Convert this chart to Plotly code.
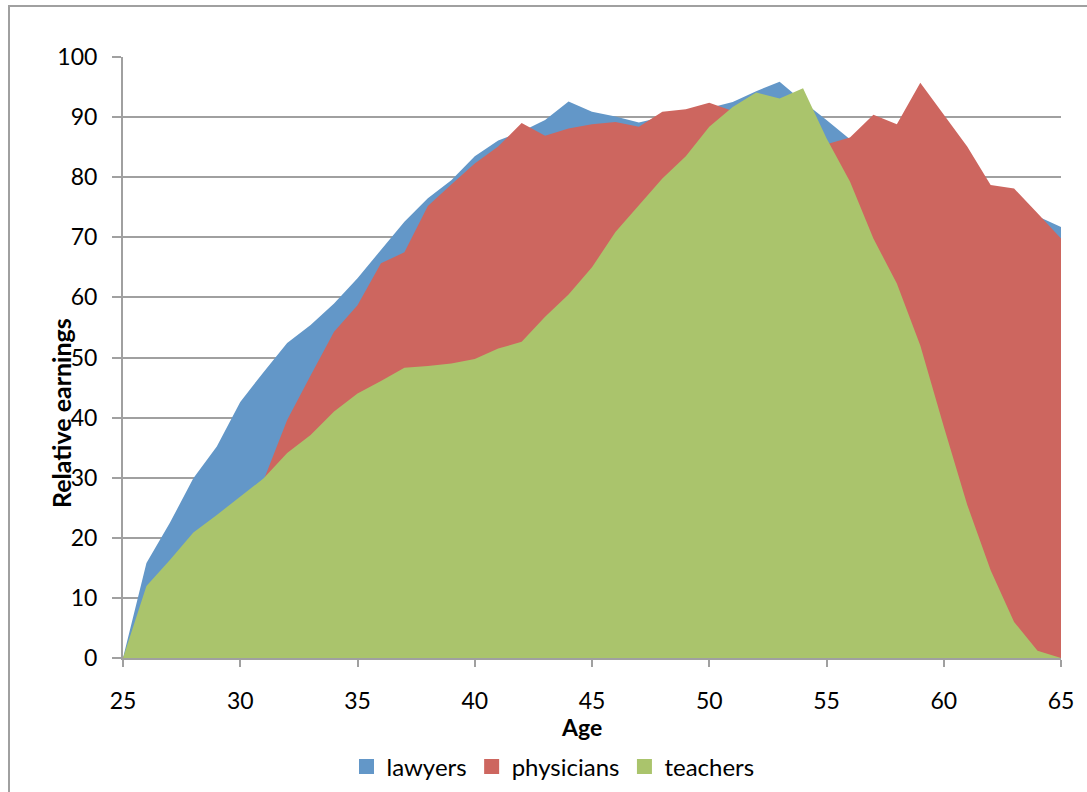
import plotly.graph_objects as go

ages = list(range(25, 66))

lawyers = [0, 15.8, 22.5, 29.9, 35.2, 42.6, 47.6, 52.4, 55.4, 59.0,
           63.2, 67.9, 72.6, 76.5, 79.5, 83.5, 86.1, 87.6, 89.5, 92.6,
           90.9, 90.1, 89.1, 90.0, 90.8, 91.5, 92.5, 94.3, 95.9, 92.6,
           89.5, 86.3, 84.0, 82.0, 80.0, 78.0, 76.0, 75.0, 74.0, 73.5, 71.7]

physicians = [0, 8, 13, 18, 22, 26, 29.6, 39.6, 47.0, 54.3,
              58.7, 65.7, 67.5, 75.2, 78.8, 82.3, 85.1, 89.0, 86.9, 88.1,
              88.8, 89.2, 88.4, 90.9, 91.3, 92.4, 91.0, 90.0, 89.0, 88.0,
              85.5, 86.6, 90.4, 88.8, 95.7, 90.3, 85.1, 78.7, 78.1, 74.0, 69.8]

teachers = [0, 12.0, 16.3, 20.9, 23.8, 26.8, 29.9, 34.1, 37.1, 41.0,
            44.0, 46.1, 48.3, 48.6, 49.0, 49.75, 51.5, 52.6, 56.8, 60.5,
            65.0, 70.9, 75.4, 79.8, 83.5, 88.4, 91.7, 94.1, 93.1, 94.8,
            86.5, 79.3, 69.8, 62.3, 52.0, 38.5, 25.5, 14.6, 6.0, 1.2, 0]

names = ["lawyers", "physicians", "teachers"]
series = [lawyers, physicians, teachers]
colors = ["#6397C8", "#CD665F", "#AAC46C"]

FONT = "Lato, Calibri, Carlito, sans-serif"
FS = 23

fig = go.Figure()
for name, vals, col in zip(names, series, colors):
    fig.add_trace(go.Scatter(
        x=ages, y=vals, name=name, mode="lines",
        fill="tozeroy", fillcolor=col,
        line=dict(width=0, color=col),
        showlegend=False, legendgroup=name,
    ))
# legend-only entries with square swatches
for name, col in zip(names, colors):
    fig.add_trace(go.Scatter(
        x=[None], y=[None], name=name, mode="markers",
        marker=dict(symbol="square", size=15, color=col),
        showlegend=True, legendgroup=name,
    ))

L, R, T, B = 123, 26, 57, 134
W, H = 1087, 792
pw, ph = W - L - R, H - T - B

def px(xp):
    return (xp - L) / pw

def py(yp):
    return (H - B - yp) / ph

fig.update_layout(
    width=W, height=H,
    margin=dict(l=L, r=R, t=T, b=B, autoexpand=False),
    paper_bgcolor="white", plot_bgcolor="white",
    font=dict(family=FONT, size=FS, color="black"),
    showlegend=True,
    legend=dict(
        orientation="h", x=px(553), y=py(767), xanchor="center", yanchor="middle",
        font=dict(family=FONT, size=24, color="black"),
        tracegroupgap=0, itemwidth=30,
    ),
    xaxis=dict(
        range=[25, 65], dtick=5, tick0=25, showgrid=False,
        ticks="outside", ticklen=7, tickwidth=2, tickcolor="#A0A0A0",
        showline=True, linecolor="#A0A0A0", linewidth=2,
        ticklabelstandoff=14, zeroline=False,
        tickfont=dict(family=FONT, size=FS, color="black"),
    ),
    yaxis=dict(
        range=[0, 100], dtick=10, tick0=0,
        showgrid=True, gridcolor="#A0A0A0", gridwidth=2,
        ticks="outside", ticklen=9, tickwidth=2, tickcolor="#A0A0A0",
        showline=True, linecolor="#A0A0A0", linewidth=2,
        ticklabelstandoff=10, zeroline=False,
        tickfont=dict(family=FONT, size=FS, color="black"),
    ),
    annotations=[
        dict(text="<b>Age</b>", x=px(581), y=py(727), xref="paper", yref="paper",
             showarrow=False, xanchor="center", yanchor="middle",
             font=dict(family=FONT, size=FS, color="black")),
        dict(text="<b>Relative earnings</b>", x=px(61), y=py(413), xref="paper", yref="paper",
             showarrow=False, xanchor="center", yanchor="middle", textangle=-90,
             font=dict(family=FONT, size=25, color="black")),
    ],
    shapes=[
        dict(type="rect", xref="paper", yref="paper",
             x0=px(9), x1=px(1095), y0=py(800), y1=py(6),
             line=dict(color="#A0A0A0", width=2), fillcolor="rgba(0,0,0,0)", layer="below"),
    ],
)

fig.write_html(
    "out.html",
    config={"displayModeBar": False},
    post_script="document.body.style.margin='0';document.body.style.padding='0';document.body.style.overflow='hidden';document.documentElement.style.overflow='hidden';",
)
